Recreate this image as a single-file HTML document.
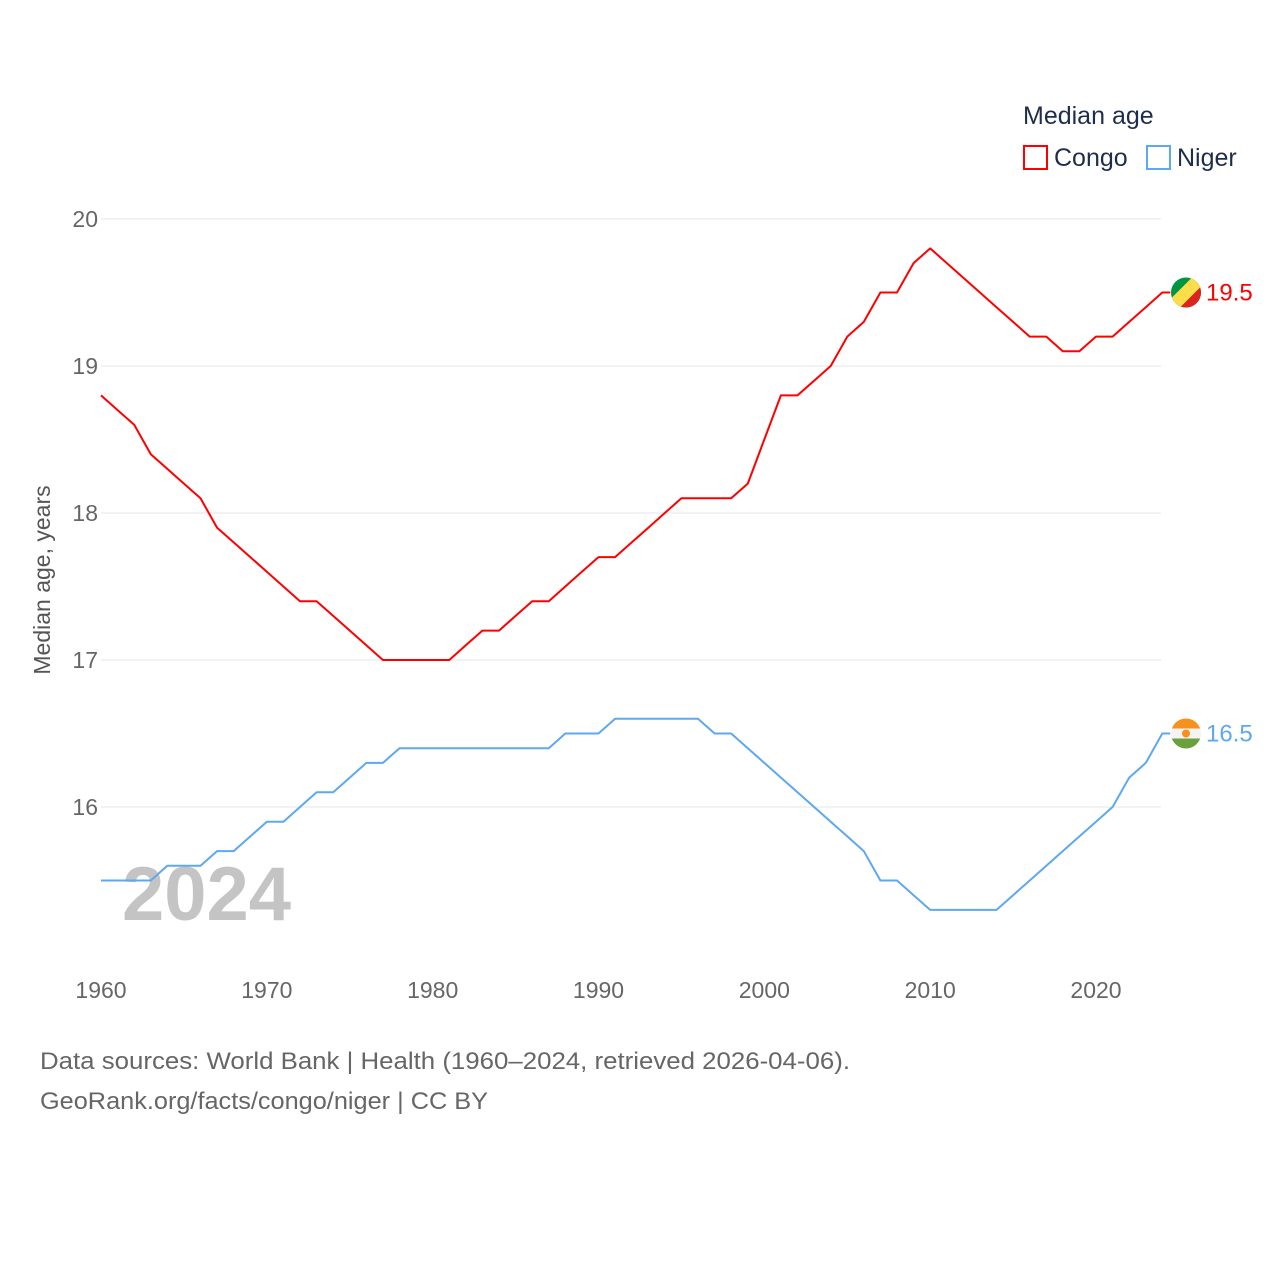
<!DOCTYPE html>
<html><head><meta charset="utf-8">
<style>
html,body{margin:0;padding:0;background:#fff;}
body{width:1280px;height:1280px;overflow:hidden;font-family:"Liberation Sans",sans-serif;}
</style></head>
<body>
<svg id="chart" width="1280" height="1280" xmlns="http://www.w3.org/2000/svg" font-family="Liberation Sans, sans-serif">
  <g id="grid"></g>
  <g id="yticks"></g>
  <g id="xticks"></g>
  <text x="122" y="920" font-size="76" font-weight="bold" fill="#c4c4c4">2024</text>
  <text transform="translate(50,580) rotate(-90)" text-anchor="middle" font-size="23" fill="#555">Median age, years</text>
  <g id="series"></g>
  <text x="1023" y="124" font-size="25" fill="#1f2d4d">Median age</text>
  <rect x="1024" y="146" width="23" height="23" fill="none" stroke="#ff0000" stroke-width="2"/>
  <text x="1054" y="166" font-size="25" fill="#1f2d4d">Congo</text>
  <rect x="1147" y="146" width="23" height="23" fill="none" stroke="#5ea8ef" stroke-width="2"/>
  <text x="1177" y="166" font-size="25" fill="#1f2d4d">Niger</text>
  <g id="ends"></g>
  <text x="40" y="1069" font-size="24" fill="#666" textLength="810" lengthAdjust="spacingAndGlyphs">Data sources: World Bank | Health (1960–2024, retrieved 2026-04-06).</text>
  <text x="40" y="1109" font-size="24" fill="#666" textLength="448" lengthAdjust="spacingAndGlyphs">GeoRank.org/facts/congo/niger | CC BY</text>
</svg>
<script>
const years = [];
for (let y = 1960; y <= 2024; y++) years.push(y);
const congo = [18.8,18.7,18.6,18.4,18.3,18.2,18.1,17.9,17.8,17.7,17.6,17.5,17.4,17.4,17.3,17.2,17.1,17.0,17.0,17.0,17.0,17.0,17.1,17.2,17.2,17.3,17.4,17.4,17.5,17.6,17.7,17.7,17.8,17.9,18.0,18.1,18.1,18.1,18.1,18.2,18.5,18.8,18.8,18.9,19.0,19.2,19.3,19.5,19.5,19.7,19.8,19.7,19.6,19.5,19.4,19.3,19.2,19.2,19.1,19.1,19.2,19.2,19.3,19.4,19.5];
const niger = [15.5,15.5,15.5,15.5,15.6,15.6,15.6,15.7,15.7,15.8,15.9,15.9,16.0,16.1,16.1,16.2,16.3,16.3,16.4,16.4,16.4,16.4,16.4,16.4,16.4,16.4,16.4,16.4,16.5,16.5,16.5,16.6,16.6,16.6,16.6,16.6,16.6,16.5,16.5,16.4,16.3,16.2,16.1,16.0,15.9,15.8,15.7,15.5,15.5,15.4,15.3,15.3,15.3,15.3,15.3,15.4,15.5,15.6,15.7,15.8,15.9,16.0,16.2,16.3,16.5];
const yTicks = [16,17,18,19,20];
const xTicks = [1960,1970,1980,1990,2000,2010,2020];

const NS = "http://www.w3.org/2000/svg";
const X = yr => 101 + (yr - 1960) * (1096 - 101) / 60;
const Y = v => 807 - (v - 16) * 147;
function mk(tag, attrs, parent, text) {
  const e = document.createElementNS(NS, tag);
  for (const k in attrs) e.setAttribute(k, attrs[k]);
  if (text !== undefined) e.textContent = text;
  parent.appendChild(e);
  return e;
}
const grid = document.getElementById('grid'), yt = document.getElementById('yticks'), xt = document.getElementById('xticks');
yTicks.forEach(v => {
  const l = mk('line', {x1: 101, x2: 1161, y1: Y(v), y2: Y(v), stroke: '#e6e6e6', 'stroke-width': 1}, grid);
  
  
  const t = mk('text', {x: 98, y: Y(v) + 8, 'text-anchor': 'end', 'font-size': 23, fill: '#666'}, yt, String(v));
  
  
});
xTicks.forEach(v => {
  const t = mk('text', {x: X(v), y: 998, 'text-anchor': 'middle', 'font-size': 23, fill: '#666'}, xt, String(v));
  
  
});
const series = document.getElementById('series');
function line(vals, color, name) {
  const d = vals.map((v, i) => (i ? 'L' : 'M') + X(years[i]).toFixed(1) + ',' + Y(v).toFixed(1)).join('') + 'h8';
  const p = mk('path', {d: d, fill: 'none', stroke: color, 'stroke-width': 2, 'stroke-linejoin': 'round'}, series);
  
  
}
line(congo, '#ff0000', 'line-congo');
line(niger, '#5ea8ef', 'line-niger');

const ends = document.getElementById('ends');
const cx = 1186;
const cy1 = Y(congo[congo.length - 1]);
const g1 = mk('g', {}, ends);


mk('clipPath', {id: 'c1'}, g1);
mk('circle', {cx: cx, cy: cy1, r: 15}, g1.lastChild);
const gg1 = mk('g', {'clip-path': 'url(#c1)'}, g1);
mk('rect', {x: cx - 15, y: cy1 - 15, width: 30, height: 30, fill: '#009543'}, gg1);
mk('polygon', {points: `${cx-15},${cy1+15} ${cx+15},${cy1-15} ${cx+15},${cy1+15}`, fill: '#dc241f'}, gg1);
mk('polygon', {points: `${cx-15},${cy1+6} ${cx+6},${cy1-15} ${cx+15},${cy1-15} ${cx+15},${cy1-6} ${cx-6},${cy1+15} ${cx-15},${cy1+15}`, fill: '#fbde4a'}, gg1);
const l1 = mk('text', {x: 1206, y: cy1 + 8, 'font-size': 24, fill: '#ff0000'}, ends, String(congo[congo.length - 1]));


const cy2 = Y(niger[niger.length - 1]);
const g2 = mk('g', {}, ends);


mk('clipPath', {id: 'c2'}, g2);
mk('circle', {cx: cx, cy: cy2, r: 15}, g2.lastChild);
const gg2 = mk('g', {'clip-path': 'url(#c2)'}, g2);
mk('rect', {x: cx - 15, y: cy2 - 15, width: 30, height: 10, fill: '#f7911e'}, gg2);
mk('rect', {x: cx - 15, y: cy2 - 5, width: 30, height: 10, fill: '#f4f4f4'}, gg2);
mk('rect', {x: cx - 15, y: cy2 + 5, width: 30, height: 10, fill: '#6aa13c'}, gg2);
mk('circle', {cx: cx, cy: cy2, r: 4, fill: '#f7911e'}, gg2);
const l2 = mk('text', {x: 1206, y: cy2 + 8, 'font-size': 24, fill: '#5ea8ef'}, ends, String(niger[niger.length - 1]));


</script>
</body></html>
